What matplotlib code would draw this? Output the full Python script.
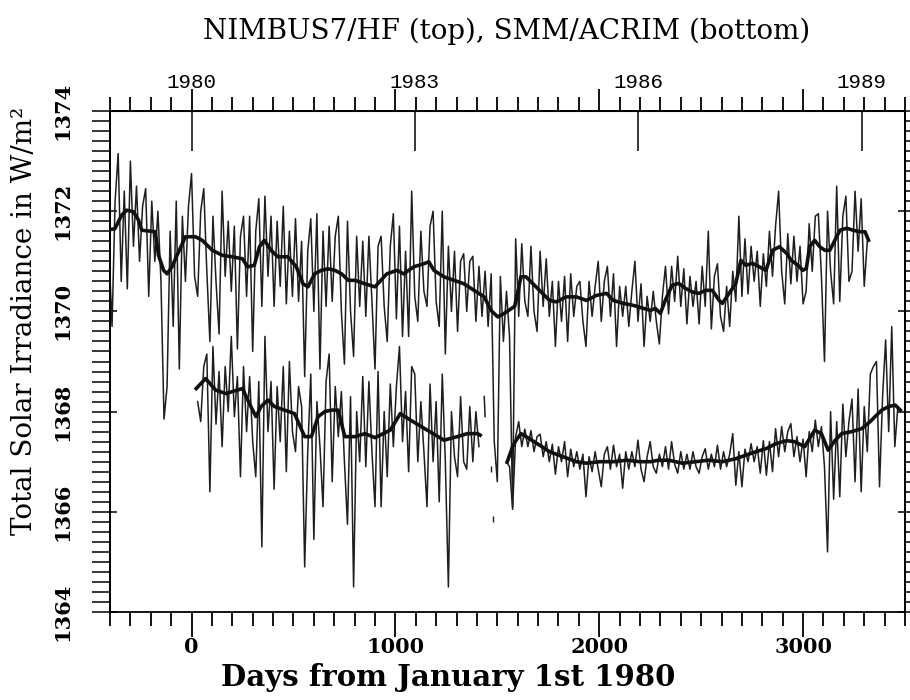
import numpy as np
import matplotlib
matplotlib.use('Agg')
import matplotlib.pyplot as plt

plt.rcParams['font.family'] = 'DejaVu Serif'

# NIMBUS7/HF raw values, one every 15 days from day -420
nimbus_days = np.arange(-420, 3316, 15)
nimbus_tsi = [
    1371.9, 1371.2, 1369.7, 1372.2, 1373.15, 1370.6, 1372.4, 1370.45, 1373.0, 1371.3,
    1372.5, 1371.0, 1372.1, 1372.45, 1370.3, 1372.2, 1371.0, 1372.0, 1370.6, 1367.85,
    1368.5, 1371.6, 1369.7, 1372.2, 1368.85, 1371.9, 1370.6, 1372.1, 1372.75, 1370.7,
    1370.3, 1372.0, 1372.45, 1370.8, 1369.4, 1371.9, 1370.6, 1369.55, 1372.4, 1370.7,
    1371.8, 1370.4, 1371.7, 1369.25, 1371.5, 1371.9, 1370.3, 1371.9, 1369.2, 1371.6,
    1372.25, 1370.1, 1372.3, 1370.7, 1371.9, 1370.1, 1371.8, 1370.5, 1372.1, 1370.15,
    1371.6, 1370.3, 1371.85, 1370.2, 1371.4, 1368.7, 1371.2, 1371.85, 1370.0, 1371.95,
    1368.85, 1371.6, 1370.1, 1371.7, 1370.2, 1371.5, 1371.9, 1370.0, 1368.95, 1371.8,
    1370.0, 1369.1, 1371.5, 1370.1, 1371.4, 1369.9, 1371.5, 1370.2, 1368.85, 1371.3,
    1371.5, 1370.1, 1369.4, 1371.3, 1371.95, 1369.85, 1371.7, 1369.5, 1371.2, 1369.5,
    1372.4, 1370.3, 1369.8, 1371.6, 1370.4, 1370.1, 1371.7, 1372.0, 1370.2, 1369.7,
    1372.0, 1369.15, 1371.3, 1370.0, 1371.2, 1369.6, 1371.0, 1371.15, 1370.0, 1371.0,
    1371.1, 1369.8, 1370.9, 1369.9, 1370.8, 1369.7, 1370.75, 1367.4, 1366.6, 1370.7,
    1369.4, 1370.4, 1369.5, 1366.1, 1371.45, 1369.9, 1371.35, 1370.2, 1369.9, 1371.3,
    1370.0, 1369.6, 1371.2, 1370.1, 1371.05, 1369.9, 1370.6, 1369.3, 1370.6, 1369.8,
    1370.7, 1369.4, 1370.75, 1369.9, 1370.5, 1370.6, 1369.8, 1369.3, 1370.6, 1369.9,
    1370.5, 1371.0, 1369.8, 1370.6, 1370.9, 1369.9, 1370.75, 1369.3, 1370.5, 1369.9,
    1370.5, 1369.7, 1370.4, 1371.0, 1369.8, 1370.55, 1369.3, 1370.3, 1369.8, 1370.4,
    1369.8, 1369.35, 1370.3, 1370.9, 1369.95, 1370.9, 1370.2, 1371.1, 1370.1, 1370.85,
    1369.75, 1370.7, 1370.1, 1370.6, 1369.75, 1370.9, 1370.1, 1371.6, 1369.65, 1370.7,
    1370.95, 1369.9, 1369.6, 1370.5, 1369.7, 1370.8, 1370.2, 1371.9, 1370.3, 1371.45,
    1370.35, 1371.3, 1370.6, 1371.2, 1370.1, 1371.15, 1370.5, 1371.6, 1370.7, 1371.7,
    1372.4, 1370.8, 1370.15, 1371.55, 1370.55, 1371.5, 1370.6, 1371.3, 1370.15, 1370.4,
    1371.75, 1370.8, 1371.9, 1371.95, 1370.7, 1369.0, 1372.0, 1370.8, 1370.15, 1372.5,
    1370.2, 1371.9, 1372.3, 1370.6, 1370.8, 1372.4, 1371.2, 1372.25, 1370.5, 1371.4,
]

# NIMBUS7 running mean
nimbus_smooth_days = [
    -417, -376, -343, -318, -285, -260, -244, -178, -162, -137,
    -120, -96, -71, -30, 19, 52, 102, 151, 200, 250,
    275, 308, 333, 357, 390, 423, 472, 514, 547, 571,
    604, 637, 670, 703, 736, 769, 802, 851, 900, 958,
    1008, 1041, 1090, 1139, 1164, 1189, 1238, 1288, 1337, 1386,
    1436, 1469, 1502, 1534, 1585, 1616, 1641, 1690, 1756, 1789,
    1838, 1888, 1937, 1987, 2036, 2069, 2118, 2168, 2217, 2252,
    2275, 2300, 2324, 2357, 2390, 2423, 2456, 2489, 2522, 2555,
    2588, 2604, 2637, 2670, 2695, 2719, 2752, 2785, 2818, 2851,
    2884, 2919, 2942, 2975, 2999, 3016, 3032, 3057, 3082, 3107,
    3131, 3156, 3181, 3214, 3246, 3279, 3304, 3321,
]
nimbus_smooth = [
    1371.62, 1371.65, 1371.92, 1372.02, 1371.99, 1371.82, 1371.62, 1371.59, 1371.12, 1370.82,
    1370.75, 1370.89, 1371.12, 1371.49, 1371.49, 1371.42, 1371.22, 1371.12, 1371.09, 1371.05,
    1370.89, 1370.92, 1371.29, 1371.42, 1371.22, 1371.09, 1371.09, 1370.89, 1370.55, 1370.49,
    1370.75, 1370.82, 1370.85, 1370.82, 1370.75, 1370.62, 1370.62, 1370.55, 1370.49, 1370.75,
    1370.82, 1370.75, 1370.89, 1370.95, 1370.99, 1370.82, 1370.69, 1370.62, 1370.55, 1370.42,
    1370.29, 1370.02, 1369.89, 1369.96, 1370.10, 1370.69, 1370.69, 1370.49, 1370.22, 1370.19,
    1370.29, 1370.29, 1370.22, 1370.32, 1370.36, 1370.22, 1370.16, 1370.12, 1370.06, 1370.02,
    1370.06, 1369.96, 1370.22, 1370.52, 1370.56, 1370.46, 1370.39, 1370.36, 1370.42, 1370.42,
    1370.22, 1370.16, 1370.36, 1370.56, 1371.02, 1370.92, 1370.96, 1370.89, 1370.82, 1371.22,
    1371.29, 1371.16, 1371.02, 1370.92, 1370.82, 1370.86, 1371.29, 1371.42, 1371.29, 1371.22,
    1371.22, 1371.42, 1371.62, 1371.66, 1371.62, 1371.59, 1371.59, 1371.42,
]

# SMM/ACRIM raw values, before the gap (every 15 days from day 30)
acrim1_days = np.arange(30, 1411, 15)
acrim1_tsi = [
    1368.2, 1367.8, 1368.9, 1369.15, 1366.4, 1369.3, 1367.75, 1368.8, 1367.3, 1368.9,
    1368.0, 1369.5, 1367.9, 1368.7, 1366.7, 1368.9, 1367.6, 1368.7, 1367.4, 1366.7,
    1368.6, 1365.3, 1369.5, 1367.6, 1368.6, 1366.45, 1368.5, 1367.4, 1368.9, 1366.8,
    1369.0, 1367.6, 1367.2, 1368.5, 1368.1, 1364.9, 1367.2, 1368.75, 1365.45, 1368.2,
    1367.3, 1366.1, 1368.6, 1369.15, 1366.6, 1368.5, 1367.5, 1368.4, 1367.0, 1365.75,
    1368.3, 1364.5, 1368.0, 1367.0, 1368.7, 1366.9, 1368.6, 1367.2, 1366.1, 1368.8,
    1366.1, 1368.0, 1366.7, 1368.55, 1367.3, 1368.5, 1369.3, 1367.4, 1368.4, 1366.8,
    1368.9, 1368.75, 1367.0, 1368.2, 1367.2, 1366.1, 1368.55, 1367.0, 1368.2, 1366.2,
    1368.75, 1367.0, 1364.5, 1368.0, 1367.1, 1366.7, 1368.3, 1367.0, 1366.85, 1368.1,
    1367.0, 1368.0, 1367.3,
]

# isolated SMM readings inside the gap
gap_line_days = [1436, 1440]
gap_line_tsi = [1368.3, 1367.9]
gap_dot_days = [1468, 1478]
gap_dot_tsi = [1366.85, 1365.85]

# SMM/ACRIM raw values, after the gap
acrim2_days = np.arange(1545, 3466, 15)
acrim2_tsi = [
    1367.0, 1366.9, 1366.05, 1367.5, 1367.8, 1367.3, 1367.65, 1367.3, 1367.62, 1367.2,
    1367.5, 1367.55, 1367.1, 1367.4, 1367.0, 1367.35, 1366.75, 1367.3, 1367.0, 1367.4,
    1366.7, 1367.25, 1366.9, 1367.2, 1366.85, 1367.15, 1366.3, 1367.1, 1366.8, 1367.2,
    1366.85, 1366.5, 1367.15, 1367.3, 1366.85, 1367.33, 1366.9, 1367.15, 1366.47, 1367.2,
    1366.85, 1367.2, 1366.9, 1367.43, 1366.85, 1366.6, 1367.1, 1367.4, 1366.9, 1366.77,
    1367.15, 1366.9, 1367.3, 1366.85, 1367.4, 1366.95, 1366.77, 1367.2, 1366.85, 1367.15,
    1366.85, 1367.2, 1366.9, 1366.77, 1367.1, 1367.26, 1366.85, 1367.15, 1366.9, 1367.33,
    1366.85, 1367.2, 1366.9, 1367.15, 1367.56, 1366.53, 1367.2, 1366.5, 1367.25, 1367.0,
    1367.36, 1367.0, 1367.3, 1366.77, 1367.42, 1366.73, 1367.4, 1366.8, 1367.66, 1367.1,
    1367.7, 1367.2, 1367.6, 1367.76, 1367.1, 1367.5, 1367.0, 1367.45, 1366.7, 1367.6,
    1367.2, 1367.83, 1367.3, 1367.7, 1366.9, 1365.2, 1368.0, 1366.25, 1367.8, 1366.3,
    1368.15, 1367.1, 1367.8, 1368.25, 1366.6, 1368.45, 1366.4, 1368.1, 1367.2, 1368.75,
    1368.9, 1369.0, 1366.5, 1368.3, 1369.43, 1367.6, 1369.7, 1367.3, 1368.1,
]

# SMM/ACRIM running means
acrim1_smooth_days = [
    23, 69, 118, 168, 250, 291, 316, 341, 374, 407,
    456, 505, 555, 588, 621, 654, 686, 719, 752, 802,
    851, 900, 975, 1024, 1074, 1156, 1238, 1304, 1353, 1403, 1416,
]
acrim1_smooth = [
    1368.46, 1368.66, 1368.43, 1368.36, 1368.46, 1368.10, 1367.90, 1368.10, 1368.23, 1368.10,
    1368.03, 1367.96, 1367.50, 1367.50, 1367.90, 1368.00, 1368.03, 1368.03, 1367.50, 1367.50,
    1367.56, 1367.48, 1367.63, 1367.96, 1367.83, 1367.63, 1367.43, 1367.50, 1367.56, 1367.56, 1367.53,
]
acrim2_smooth_days = [
    1548, 1575, 1591, 1616, 1657, 1707, 1756, 1822, 1888, 1937,
    2003, 2069, 2135, 2200, 2252, 2291, 2341, 2407, 2472, 2538,
    2604, 2670, 2719, 2769, 2818, 2867, 2919, 2958, 3008, 3057,
    3090, 3123, 3156, 3189, 3238, 3288, 3329, 3353, 3386, 3419,
    3452, 3477,
]
acrim2_smooth = [
    1366.99, 1367.30, 1367.42, 1367.56, 1367.46, 1367.33, 1367.20, 1367.10, 1367.00, 1366.97,
    1367.00, 1367.00, 1367.03, 1367.00, 1367.00, 1367.03, 1367.03, 1366.97, 1367.00, 1367.03,
    1367.00, 1367.06, 1367.13, 1367.20, 1367.26, 1367.36, 1367.42, 1367.40, 1367.30, 1367.63,
    1367.56, 1367.23, 1367.42, 1367.56, 1367.60, 1367.66, 1367.80, 1367.90, 1368.03, 1368.10,
    1368.13, 1368.03,
]

# years on the top axis (days from Jan 1st 1980)
year_days = [0, 1096, 2192, 3288]
year_labels = ['1980', '1983', '1986', '1989']

fig = plt.figure(figsize=(9.1, 7), dpi=100)
ax = fig.add_axes([110 / 910, 1 - 612 / 700, 795 / 910, 501 / 700])

raw_kw = dict(color='#1e1e1e', lw=1.1)
ax.plot(nimbus_days, nimbus_tsi, **raw_kw)
ax.plot(acrim1_days, acrim1_tsi, **raw_kw)
ax.plot(acrim2_days, acrim2_tsi, **raw_kw)
ax.plot(gap_line_days, gap_line_tsi, **raw_kw)
ax.plot(gap_dot_days, gap_dot_tsi, ls='none', marker='|', ms=4, mew=1, color='#1e1e1e')

smooth_kw = dict(color='#111111', lw=2.6)
ax.plot(nimbus_smooth_days, nimbus_smooth, **smooth_kw)
ax.plot(acrim1_smooth_days, acrim1_smooth, **smooth_kw)
ax.plot(acrim2_smooth_days, acrim2_smooth, **smooth_kw)

ax.set_xlim(-400, 3500)
ax.set_ylim(1364, 1374)
for s in ax.spines.values():
    s.set_linewidth(1.3)

ax.set_xticks([0, 1000, 2000, 3000])
ax.set_xticks(np.arange(-400, 3501, 100), minor=True)
ax.set_yticks(np.arange(1364, 1375, 2))
ax.set_yticks(np.arange(1364, 1374.01, 0.2), minor=True)
ax.tick_params(axis='x', which='major', direction='out', length=18, width=1.3, labelsize=15, pad=0)
ax.tick_params(axis='x', which='minor', direction='out', length=10, width=1.3)
ax.tick_params(axis='y', which='both', direction='out', length=13, width=1.1,
               left=True, right=True, labelsize=15, pad=14)
ax.tick_params(axis='y', labelrotation=90)
for lab in ax.get_xticklabels() + ax.get_yticklabels():
    lab.set_fontweight('bold')
for lab in ax.get_yticklabels():
    lab.set_va('center')

# small inward ticks at the labelled irradiance values
for side in ['left', 'right']:
    sy = ax.secondary_yaxis(side)
    sy.set_yticks(np.arange(1364, 1375, 2))
    sy.tick_params(direction='in', length=5, width=1.1, labelleft=False, labelright=False)
    sy.spines[side].set_linewidth(1.3)

# top axis: day ticks outward, year ticks inward
top_days = ax.secondary_xaxis('top')
top_days.set_xticks([0, 1000, 2000, 3000])
top_days.set_xticks(np.arange(-400, 3501, 100), minor=True)
top_days.tick_params(which='major', direction='out', length=16, width=1.3, labeltop=False)
top_days.tick_params(which='minor', direction='out', length=10, width=1.3)
top_days.spines['top'].set_linewidth(1.3)

top_years = ax.secondary_xaxis('top')
top_years.set_xticks(year_days, year_labels)
top_years.tick_params(direction='in', length=29, width=1.1, labelsize=15, pad=14)
for lab in top_years.get_xticklabels():
    lab.set_fontfamily('Liberation Mono')

fig.text(507 / 910, 1 - 31 / 700, 'NIMBUS7/HF (top), SMM/ACRIM (bottom)',
         ha='center', va='center', fontsize=20)
fig.text(448 / 910, 1 - 678 / 700, 'Days from January 1st 1980',
         ha='center', va='center', fontsize=21, fontweight='bold')
fig.text(25 / 910, 1 - 321 / 700, 'Total Solar Irradiance in W/m²',
         ha='center', va='center', rotation=90, fontsize=20)

fig.savefig('out.png', dpi=100)
